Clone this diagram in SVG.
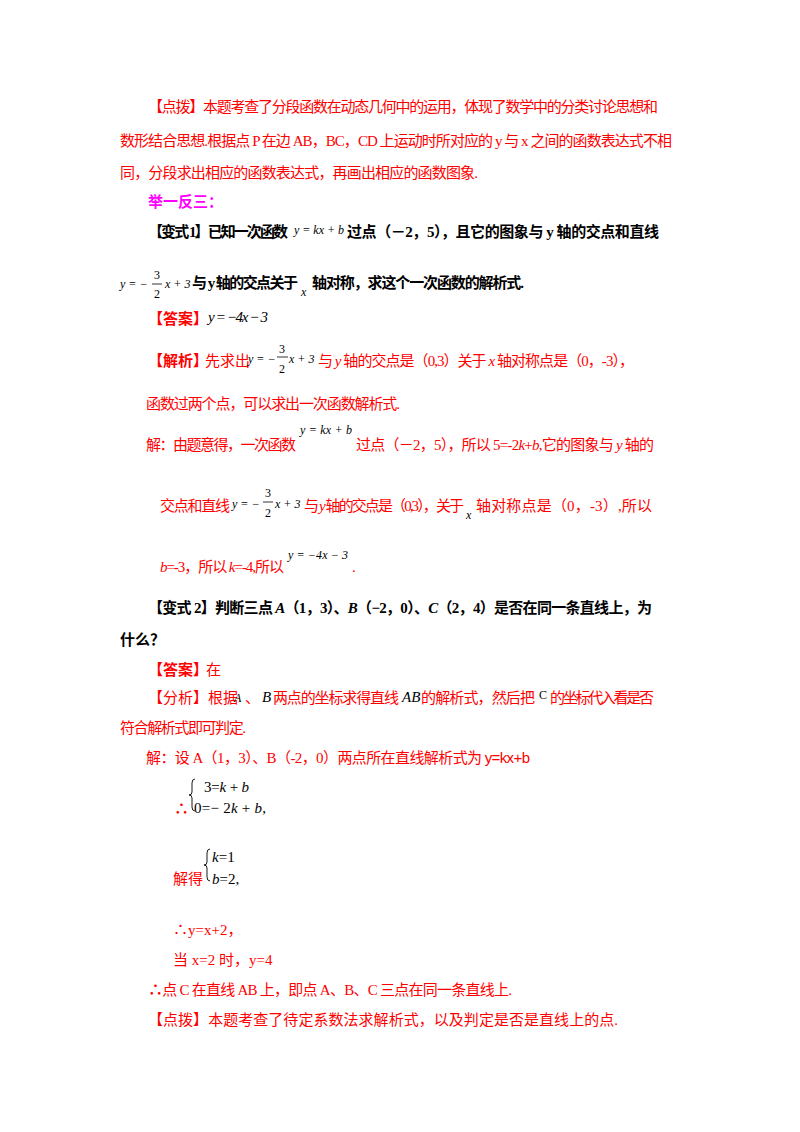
<svg xmlns="http://www.w3.org/2000/svg" width="800" height="1132" viewBox="0 0 800 1132">
<style>
text{font-family:"Liberation Serif","Noto Sans CJK SC",serif;font-size:15px;}
.r{fill:#ff0000}.k{fill:#000}.b{font-weight:bold}.m{fill:#ff00ff;font-weight:bold}
.mt{font-family:"Liberation Serif",serif;font-style:italic;fill:#000}
.sm{font-size:12px}
.n{font-style:normal}
</style>
<rect width="800" height="1132" fill="#fff"/>
<g id="p1">
<text x="148" y="112" class="r" textLength="510">【点拨】本题考查了分段函数在动态几何中的运用，体现了数学中的分类讨论思想和</text>
<text x="120" y="146" class="r" textLength="552">数形结合思想.根据点 P 在边 AB，BC，CD 上运动时所对应的 y 与 x 之间的函数表达式不相</text>
<text x="120" y="178" class="r" textLength="358">同，分段求出相应的函数表达式，再画出相应的函数图象.</text>
<text x="148" y="207" class="m">举一反三：</text>
</g>
<g id="p2">
<text x="148" y="237" class="k b" textLength="140">【变式 1】已知一次函数</text>
<text x="294" y="234" class="mt sm" textLength="50">y = kx + b</text>
<text x="347" y="237" class="k b" textLength="312">过点（－2，5），且它的图象与 y 轴的交点和直线</text>
<text x="120" y="288" class="mt sm">y = −</text>
<text x="154" y="279" class="mt sm n">3</text>
<line x1="152" y1="284" x2="162" y2="284" stroke="#000" stroke-width="0.8"/>
<text x="154" y="298" class="mt sm n">2</text>
<text x="165" y="288" class="mt sm">x + 3</text>
<text x="192" y="288" class="k b" textLength="106">与 y 轴的交点关于</text>
<text x="301" y="296" class="mt sm">x</text>
<text x="312" y="288" class="k b" textLength="212">轴对称，求这个一次函数的解析式.</text>
</g>
<g id="p3">
<text x="148" y="324" class="r b" font-size="14">【答案】</text>
<text x="208" y="322" class="mt" textLength="60">y = −4x − 3</text>
<text x="148" y="366" class="r b" font-size="14">【解析】</text>
<text x="205" y="366" class="r" font-size="14">先求出</text>
<text x="248" y="363" class="mt sm">y = −</text>
<text x="279" y="353" class="mt sm n">3</text>
<line x1="277" y1="357" x2="288" y2="357" stroke="#000" stroke-width="0.8"/>
<text x="279" y="373" class="mt sm n">2</text>
<text x="289" y="363" class="mt sm">x + 3</text>
<text x="318" y="366" class="r" textLength="316">与 <tspan font-style="italic">y</tspan> 轴的交点是（0,3）关于 <tspan font-style="italic">x</tspan> 轴对称点是（0，-3），</text>
<text x="146" y="409" class="r" textLength="254">函数过两个点，可以求出一次函数解析式.</text>
<text x="146" y="450" class="r" textLength="150">解：由题意得，一次函数</text>
<text x="300" y="434" class="mt sm" textLength="52">y = kx + b</text>
<text x="356" y="450" class="r" textLength="298">过点（－2，5），所以 5=-2<tspan font-style="italic">k</tspan>+<tspan font-style="italic">b</tspan>,它的图象与 <tspan font-style="italic">y</tspan> 轴的</text>
<text x="160" y="511" class="r" textLength="70">交点和直线</text>
<text x="232" y="508" class="mt sm">y = −</text>
<text x="265" y="497" class="mt sm n">3</text>
<line x1="263" y1="502" x2="273" y2="502" stroke="#000" stroke-width="0.8"/>
<text x="265" y="517" class="mt sm n">2</text>
<text x="275" y="508" class="mt sm">x + 3</text>
<text x="304" y="511" class="r" textLength="160">与 <tspan font-style="italic">y</tspan> 轴的交点是（0,3），关于</text>
<text x="466" y="519" class="mt sm">x</text>
<text x="476" y="511" class="r" textLength="176">轴对称点是（0，-3）,所以</text>
<text x="160" y="572" class="r" textLength="124"><tspan font-style="italic">b</tspan>=-3，所以 <tspan font-style="italic">k</tspan>=-4,所以</text>
<text x="288" y="559" class="mt sm" textLength="60">y = −4x − 3</text>
<text x="352" y="572" class="r">.</text>
</g>
<g id="p4">
<text x="148" y="613" class="k b" textLength="504">【变式 2】判断三点 <tspan font-style="italic">A</tspan>（1，3）、<tspan font-style="italic">B</tspan>（−2，0）、<tspan font-style="italic">C</tspan>（2，4）是否在同一条直线上，为</text>
<text x="120" y="645" class="k b">什么？</text>
<text x="148" y="675" class="r b" font-size="14">【答案】</text>
<text x="206" y="675" class="r">在</text>
<text x="148" y="703" class="r" font-size="14">【分析】根据</text>
<text x="234" y="702" class="mt sm">A</text>
<text x="245" y="703" class="r">、</text>
<text x="262" y="702" class="mt" font-size="10">B</text>
<text x="273" y="703" class="r" textLength="126">两点的坐标求得直线</text>
<text x="402" y="702" class="mt" font-size="10">AB</text>
<text x="421" y="703" class="r" textLength="114">的解析式，然后把</text>
<text x="539" y="699" class="mt sm n">C</text>
<text x="550" y="703" class="r" textLength="104">的坐标代入看是否</text>
<text x="120" y="733" class="r" textLength="126">符合解析式即可判定.</text>
<text x="146" y="763" class="r" textLength="384">解：设 A（1，3）、B（-2，0）两点所在直线解析式为 <tspan font-family="Liberation Sans">y=kx+b</tspan></text>
<path d="M195 779 q-3 0 -3 4 v9 q0 3 -3 3 q3 0 3 3 v9 q0 4 3 4" fill="none" stroke="#000" stroke-width="0.9"/>
<text x="204" y="792" class="k" font-size="13" textLength="45">3=<tspan font-style="italic">k</tspan> + <tspan font-style="italic">b</tspan></text>
<text x="174" y="814" class="r b">∴</text>
<text x="194" y="813" class="k" font-size="13" textLength="72">0=− 2<tspan font-style="italic">k</tspan> + <tspan font-style="italic">b</tspan>,</text>
<path d="M210 849 q-3 0 -3 4 v9 q0 3 -3 3 q3 0 3 3 v9 q0 4 3 4" fill="none" stroke="#000" stroke-width="0.9"/>
<text x="212" y="862" class="k" font-size="13"><tspan font-style="italic">k</tspan>=1</text>
<text x="173" y="884" class="r">解得</text>
<text x="212" y="884" class="k" font-size="13"><tspan font-style="italic">b</tspan>=2,</text>
<text x="173" y="935" class="r">∴y=x+2，</text>
<text x="173" y="965" class="r">当 x=2 时，y=4</text>
<text x="148" y="995" class="r" textLength="364"><tspan font-weight="bold">∴</tspan>点 C 在直线 AB 上，即点 A、B、C 三点在同一条直线上.</text>
<text x="148" y="1025" class="r" textLength="470">【点拨】本题考查了待定系数法求解析式，以及判定是否是直线上的点.</text>
</g>
</svg>
